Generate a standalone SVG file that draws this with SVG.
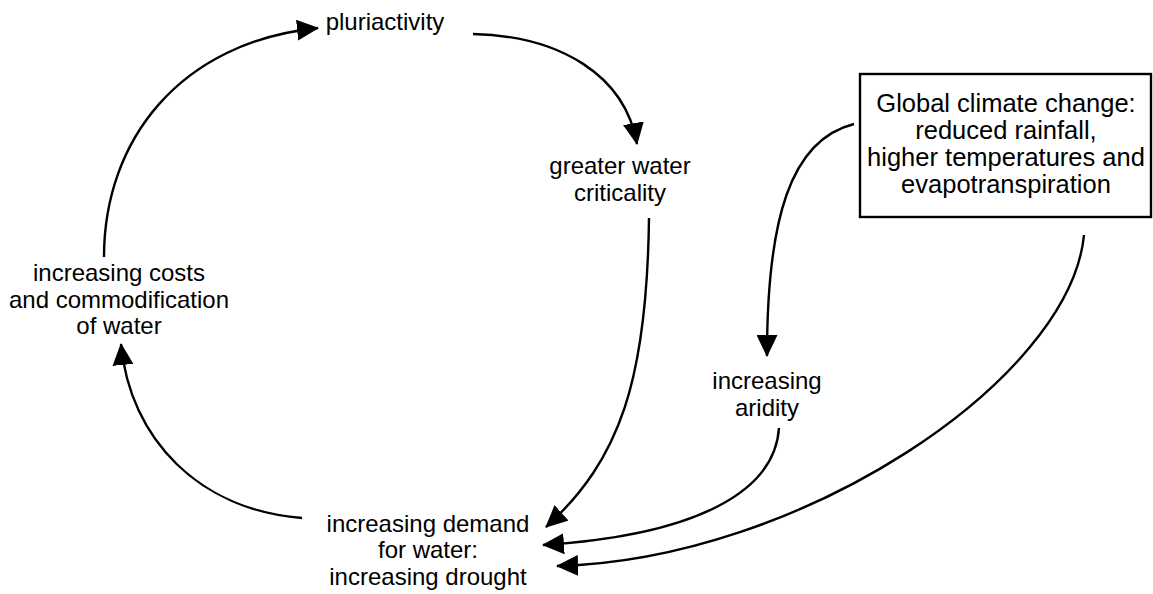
<svg xmlns="http://www.w3.org/2000/svg" width="1153" height="594" viewBox="0 0 1153 594">
<style>
.t{font-family:"Liberation Sans",Arial,Helvetica,sans-serif;font-size:24px;fill:#000;text-anchor:middle}
.b{font-size:25.5px}
.c{fill:none;stroke:#000;stroke-width:2.4;marker-end:url(#ah)}
</style>
<defs>
<marker id="ah" markerUnits="userSpaceOnUse" viewBox="0 0 22 21" markerWidth="22" markerHeight="21" refX="21" refY="10.5" orient="auto">
<path d="M0,0 L22,10.5 L0,21 Z" fill="#000"/>
</marker>
</defs>
<rect width="1153" height="594" fill="#fff"/>
<g id="connectors">
<path class="c" d="M104,257 C104,140 180,42 318,28"/>
<path class="c" d="M473,34 C560,36 625,75 637,144"/>
<path class="c" d="M649,218 C647,380 620,460 546,527"/>
<path class="c" d="M854,124 C790,140 767,220 767,356"/>
<path class="c" d="M779,428 C775,490 700,535 543,545"/>
<path class="c" d="M1084,235 C1070,380 800,560 557,566"/>
<path class="c" d="M302,518 C200,510 130,440 121,344"/>
</g>
<g id="pluriactivity">
<text class="t" x="385" y="30">pluriactivity</text>
</g>
<g id="criticality">
<text class="t" x="620" y="174">greater water</text>
<text class="t" x="620" y="201">criticality</text>
</g>
<g id="costs">
<text class="t" x="119" y="281">increasing costs</text>
<text class="t" x="119" y="308">and commodification</text>
<text class="t" x="119" y="334">of water</text>
</g>
<g id="climate">
<rect x="860" y="74" width="291" height="143" fill="#fff" stroke="#000" stroke-width="2.4"/>
<text class="t b" x="1006" y="112">Global climate change:</text>
<text class="t b" x="1006" y="139">reduced rainfall,</text>
<text class="t b" x="1006" y="166">higher temperatures and</text>
<text class="t b" x="1006" y="193">evapotranspiration</text>
</g>
<g id="aridity">
<text class="t" x="767" y="389">increasing</text>
<text class="t" x="767" y="416">aridity</text>
</g>
<g id="demand">
<text class="t" x="428" y="532">increasing demand</text>
<text class="t" x="428" y="558">for water:</text>
<text class="t" x="428" y="585">increasing drought</text>
</g>
</svg>
